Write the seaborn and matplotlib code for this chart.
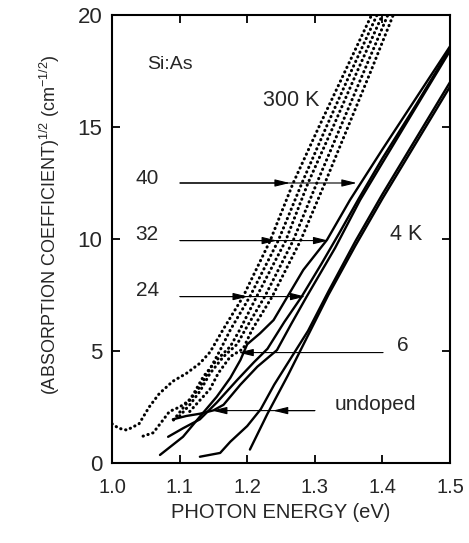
import matplotlib
matplotlib.use("Agg")
import matplotlib.pyplot as plt
import seaborn as sns
import pandas as pd

# ---------------- data ----------------
# 300 K curves (dotted)
d1_x = [1.000, 1.010, 1.022, 1.040, 1.055, 1.070, 1.090, 1.110, 1.130, 1.145, 1.164, 1.194, 1.234, 1.268, 1.306, 1.345, 1.384]
d1_y = [1.75, 1.55, 1.47, 1.75, 2.50, 3.10, 3.65, 4.00, 4.45, 4.95, 5.94, 7.43, 9.93, 12.5, 15.0, 17.5, 20.0]
d2_x = [1.046, 1.061, 1.075, 1.085, 1.100, 1.115, 1.130, 1.145, 1.160, 1.175, 1.204, 1.246, 1.281, 1.317, 1.354, 1.392]
d2_y = [1.20, 1.35, 1.90, 2.30, 2.50, 2.80, 3.40, 4.20, 5.04, 5.94, 7.43, 9.93, 12.5, 15.0, 17.5, 20.0]
d3_x = [1.091, 1.105, 1.120, 1.135, 1.155, 1.175, 1.190, 1.214, 1.257, 1.290, 1.327, 1.363, 1.400]
d3_y = [1.92, 2.45, 3.05, 3.85, 4.60, 5.20, 6.00, 7.43, 9.93, 12.5, 15.0, 17.5, 20.0]
d4_x = [1.100, 1.115, 1.130, 1.145, 1.165, 1.185, 1.198, 1.226, 1.268, 1.303, 1.338, 1.373, 1.408]
d4_y = [2.10, 2.60, 3.20, 4.00, 4.75, 5.30, 6.00, 7.43, 9.93, 12.5, 15.0, 17.5, 20.0]
d5_x = [1.115, 1.130, 1.145, 1.157, 1.175, 1.194, 1.207, 1.237, 1.279, 1.315, 1.349, 1.383, 1.416]
d5_y = [2.30, 2.80, 3.30, 4.00, 4.75, 5.10, 5.94, 7.43, 9.93, 12.5, 15.0, 17.5, 20.0]

# 4 K curves (solid)
s40_x = [1.071, 1.105, 1.130, 1.155, 1.175, 1.190, 1.200, 1.219, 1.239, 1.260, 1.283, 1.318, 1.352, 1.400, 1.450, 1.500]
s40_y = [0.36, 1.17, 2.07, 2.96, 3.80, 4.60, 5.30, 5.79, 6.38, 7.45, 8.62, 9.96, 11.74, 14.0, 16.3, 18.6]
s32_x = [1.083, 1.105, 1.130, 1.155, 1.185, 1.210, 1.230, 1.255, 1.280, 1.310, 1.335, 1.365, 1.400, 1.450, 1.500]
s32_y = [1.17, 1.55, 1.95, 2.70, 3.70, 4.50, 5.10, 6.30, 7.40, 8.90, 10.2, 11.8, 13.6, 16.0, 18.5]
s24_x = [1.090, 1.110, 1.130, 1.150, 1.165, 1.190, 1.215, 1.244, 1.265, 1.288, 1.330, 1.367, 1.400, 1.450, 1.500]
s24_y = [1.95, 2.10, 2.20, 2.35, 2.60, 3.50, 4.30, 5.04, 6.20, 7.43, 9.60, 11.74, 13.4, 15.9, 18.4]
s6_x = [1.130, 1.160, 1.175, 1.200, 1.220, 1.240, 1.265, 1.290, 1.320, 1.360, 1.400, 1.450, 1.500]
s6_y = [0.28, 0.45, 0.95, 1.65, 2.40, 3.50, 4.70, 5.90, 7.65, 9.90, 12.0, 14.5, 17.0]
sun_x = [1.204, 1.230, 1.260, 1.290, 1.320, 1.360, 1.400, 1.450, 1.500]
sun_y = [0.60, 2.20, 3.90, 5.70, 7.50, 9.70, 11.8, 14.3, 16.8]

dotted_curves = [(d1_x, d1_y), (d2_x, d2_y), (d3_x, d3_y), (d4_x, d4_y), (d5_x, d5_y)]
solid_curves = [(s40_x, s40_y), (s32_x, s32_y), (s24_x, s24_y), (s6_x, s6_y), (sun_x, sun_y)]

# arrows: label, y level, tail x, head x (300 K), head x (4 K; None if absent)
arrow_labels = ["40", "32", "24", "6", "undoped"]
arrow_y = [12.5, 9.93, 7.43, 4.93, 2.34]
arrow_tail = [1.1006, 1.1006, 1.1006, 1.401, 1.300]
arrow_head1 = [1.263, 1.244, 1.201, 1.187, 1.148]
arrow_head2 = [1.362, 1.320, 1.286, None, 1.238]
label_x = [1.052, 1.052, 1.052, 1.430, 1.389]
label_y = [12.72, 10.18, 7.68, 5.25, 2.62]

x_ticks = [1.0, 1.1, 1.2, 1.3, 1.4, 1.5]
y_ticks = [0, 5, 10, 15, 20]

# ---------------- plotting ----------------
sns.set_style("ticks")
plt.rcParams["font.family"] = ["Liberation Sans", "DejaVu Sans"]
plt.rcParams["mathtext.fontset"] = "custom"
plt.rcParams["mathtext.rm"] = "Liberation Sans"
plt.rcParams["mathtext.it"] = "Liberation Sans"

fig = plt.figure(figsize=(4.69, 5.43), dpi=100)
ax = fig.add_axes([0.2388, 0.1473, 0.7207, 0.8251])

for cx, cy in dotted_curves:
    df = pd.DataFrame({"x": cx, "y": cy})
    sns.lineplot(data=df, x="x", y="y", ax=ax, color="black", lw=2.2,
                 linestyle=(0, (0.1, 1.55)), dash_capstyle="round",
                 estimator=None, sort=False)
for cx, cy in solid_curves:
    df = pd.DataFrame({"x": cx, "y": cy})
    sns.lineplot(data=df, x="x", y="y", ax=ax, color="black", lw=1.7,
                 estimator=None, sort=False)

aprops = dict(arrowstyle="-|>,head_length=0.9,head_width=0.22", color="black",
              lw=0.8, shrinkA=0, shrinkB=0)
for lab, yv, xt, h1, h2, lx, ly in zip(arrow_labels, arrow_y, arrow_tail,
                                       arrow_head1, arrow_head2, label_x, label_y):
    ax.annotate("", xy=(h1, yv), xytext=(xt, yv), arrowprops=aprops)
    if h2 is not None:
        ax.annotate("", xy=(h2, yv), xytext=(xt, yv), arrowprops=aprops)
    ax.text(lx, ly, lab, fontsize=15, ha="center", va="center")

ax.text(1.086, 17.77, "Si:As", fontsize=14, ha="center", va="center")
ax.text(1.265, 16.2, "300 K", fontsize=15.5, ha="center", va="center")
ax.text(1.435, 10.2, "4 K", fontsize=15.5, ha="center", va="center")

ax.set_xlim(1.0, 1.5)
ax.set_ylim(0, 20)
ax.set_xticks(x_ticks)
ax.set_xticklabels([f"{t:.1f}" for t in x_ticks])
ax.set_yticks(y_ticks)
ax.tick_params(axis="both", direction="in", length=6, width=1.3,
               top=True, right=True, color="black")
ax.tick_params(axis="x", labelsize=14.5, pad=11)
ax.tick_params(axis="y", labelsize=16, pad=7)
for sp in ax.spines.values():
    sp.set_linewidth(1.5)
    sp.set_color("black")

ax.set_xlabel("PHOTON ENERGY (eV)", fontsize=14.5)
ax.xaxis.set_label_coords(0.5, -0.09)
ax.set_ylabel(r"(ABSORPTION COEFFICIENT)$^{1/2}$ (cm$^{-1/2}$)", fontsize=13)
ax.yaxis.set_label_coords(-0.148, 0.531)

fig.savefig("out.png", dpi=100, facecolor="white")
